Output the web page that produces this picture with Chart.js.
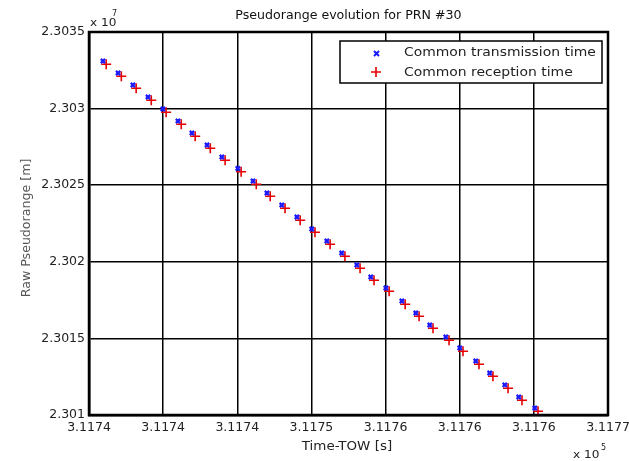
<!DOCTYPE html>
<html>
<head>
<meta charset="utf-8">
<script src="https://cdn.jsdelivr.net/npm/chart.js@4.4.0/dist/chart.umd.min.js"></script>
<style>
    html, body { margin: 0; padding: 0; background: #fff; }
    #contenedor { width: 629px; height: 461px; }
</style>
</head>
<body>
<div id="contenedor"><canvas id="pseudorango"></canvas></div>
<script>
// Datos (tiempo TOW en s, pseudodistancia en m)
const tiempoTx = [311737.97, 311738.48, 311738.98, 311739.49, 311739.99, 311740.50, 311740.97, 311741.48, 311741.98, 311742.52,
    311743.03, 311743.50, 311744.00, 311744.51, 311745.01, 311745.52, 311746.02, 311746.53, 311747.00, 311747.51,
    311748.05, 311748.52, 311748.99, 311749.53, 311750.00, 311750.54, 311751.01, 311751.52, 311751.99, 311752.53];
const rangoTx = [23033107, 23032324, 23031541, 23030757, 23029974, 23029191, 23028408, 23027624, 23026841, 23026090,
    23025275, 23024492, 23023708, 23022925, 23022142, 23021359, 23020575, 23019792, 23019009, 23018291,
    23017442, 23016659, 23015876, 23015093, 23014375, 23013526, 23012743, 23011960, 23011176, 23010458];
const tiempoRx = [311738.08, 311738.59, 311739.09, 311739.60, 311740.10, 311740.61, 311741.08, 311741.59, 311742.09, 311742.63,
    311743.14, 311743.61, 311744.11, 311744.62, 311745.12, 311745.63, 311746.13, 311746.64, 311747.11, 311747.62,
    311748.16, 311748.63, 311749.10, 311749.64, 311750.11, 311750.65, 311751.12, 311751.63, 311752.10, 311752.64];
const rangoRx = [23032897, 23032114, 23031331, 23030547, 23029764, 23028981, 23028198, 23027414, 23026631, 23025880,
    23025065, 23024282, 23023498, 23022715, 23021932, 23021149, 23020365, 23019582, 23018799, 23018081,
    23017232, 23016449, 23015666, 23014883, 23014165, 23013316, 23012533, 23011750, 23010966, 23010248];

const xTickLabels = ["3.1174", "3.1174", "3.1174", "3.1175", "3.1176", "3.1176", "3.1176", "3.1177"];
const yTickLabels = ["2.301", "2.3015", "2.302", "2.3025", "2.303", "2.3035"];

function puntos(xs, ys) {
    return xs.map((x, i) => ({ x: x, y: ys[i] }));
}

// Texto con un ligero estiramiento horizontal, como en la figura original
function texto(ctx, str, x, y, size, color, align, sx) {
    ctx.save();
    ctx.font = size + "px 'DejaVu Sans'";
    ctx.fillStyle = color;
    ctx.textAlign = align;
    ctx.textBaseline = "middle";
    ctx.translate(x, y);
    ctx.scale(sx || 1, 1);
    ctx.fillText(str, 0, 0);
    ctx.restore();
}

const decoraciones = {
    id: "decoraciones",
    afterDraw(chart) {
        const { ctx, chartArea: a } = chart;
        ctx.save();

        // marco
        ctx.strokeStyle = "#000";
        ctx.lineWidth = 2.5;
        ctx.strokeRect(a.left, a.top, a.right - a.left, a.bottom - a.top);

        // título y ejes
        texto(ctx, "Pseudorange evolution for PRN #30", (a.left + a.right) / 2, 16, 12, "#111", "center", 1.05);
        texto(ctx, "Time-TOW [s]", 347, 447, 12, "#222", "center", 1.12);
        ctx.save();
        ctx.translate(27, 228);
        ctx.rotate(-Math.PI / 2);
        texto(ctx, "Raw Pseudorange [m]", 0, 0, 12, "#555", "center", 1.05);
        ctx.restore();

        // multiplicadores
        texto(ctx, "x 10", 90, 23, 11, "#222", "left", 1.1);
        texto(ctx, "7", 112, 14, 8, "#222", "left", 1);
        texto(ctx, "x 10", 573, 455, 11, "#222", "left", 1.1);
        texto(ctx, "5", 601, 448, 8, "#222", "left", 1);

        // leyenda
        const lx = 340, ly = 41, lw = 262, lh = 42;
        ctx.fillStyle = "#fff";
        ctx.fillRect(lx, ly, lw, lh);
        ctx.strokeStyle = "#000";
        ctx.lineWidth = 1.5;
        ctx.strokeRect(lx, ly, lw, lh);

        const ds = chart.data.datasets;
        // x azul
        ctx.strokeStyle = ds[0].borderColor;
        ctx.lineWidth = 2;
        ctx.beginPath();
        ctx.moveTo(374, 51); ctx.lineTo(379, 56);
        ctx.moveTo(379, 51); ctx.lineTo(374, 56);
        ctx.stroke();
        // + rojo
        ctx.strokeStyle = ds[1].borderColor;
        ctx.lineWidth = 1.6;
        ctx.beginPath();
        ctx.moveTo(371, 72); ctx.lineTo(381, 72);
        ctx.moveTo(376, 67); ctx.lineTo(376, 77);
        ctx.stroke();

        texto(ctx, ds[0].label, 404, 53, 12, "#222", "left", 1.16);
        texto(ctx, ds[1].label, 404, 73, 12, "#222", "left", 1.16);

        ctx.restore();
    }
};

new Chart(document.getElementById("pseudorango").getContext("2d"), {
    type: "scatter",
    data: {
        datasets: [
            {
                label: "Common transmission time",
                data: puntos(tiempoTx, rangoTx),
                pointStyle: "crossRot",
                radius: 3,
                borderWidth: 2.2,
                borderColor: "#1a1aff",
                backgroundColor: "#1a1aff",
            },
            {
                label: "Common reception time",
                data: puntos(tiempoRx, rangoRx),
                pointStyle: "cross",
                radius: 5,
                borderWidth: 1.6,
                borderColor: "#e60000",
                backgroundColor: "#e60000",
            },
        ],
    },
    options: {
        responsive: true,
        maintainAspectRatio: false,
        animation: false,
        layout: { padding: { top: 32, left: 0, right: 21, bottom: 0 } },
        plugins: {
            legend: { display: false },
            title: { display: false },
            tooltip: { enabled: false },
        },
        scales: {
            x: {
                type: "linear",
                min: 311737.5,
                max: 311755,
                afterFit: (s) => { s.height = 46; s.paddingLeft = 0; s.paddingRight = 0; },
                grid: { color: "#000", lineWidth: 1.5, drawTicks: false },
                border: { color: "#000", width: 2.5 },
                ticks: {
                    stepSize: 2.5,
                    autoSkip: false,
                    maxRotation: 0,
                    padding: 5,
                    color: "#222",
                    font: { family: "DejaVu Sans", size: 12.5 },
                    callback: (v, i) => xTickLabels[i],
                },
            },
            y: {
                min: 23010000,
                max: 23035000,
                afterFit: (s) => { s.width = 89; s.paddingTop = 0; s.paddingBottom = 0; },
                grid: { color: "#000", lineWidth: 1.5, drawTicks: false },
                border: { color: "#000", width: 2.5 },
                ticks: {
                    stepSize: 5000,
                    autoSkip: false,
                    padding: 4,
                    color: "#222",
                    font: { family: "DejaVu Sans", size: 12.5 },
                    callback: (v, i) => yTickLabels[i],
                },
            },
        },
    },
    plugins: [decoraciones],
});
</script>
</body>
</html>
